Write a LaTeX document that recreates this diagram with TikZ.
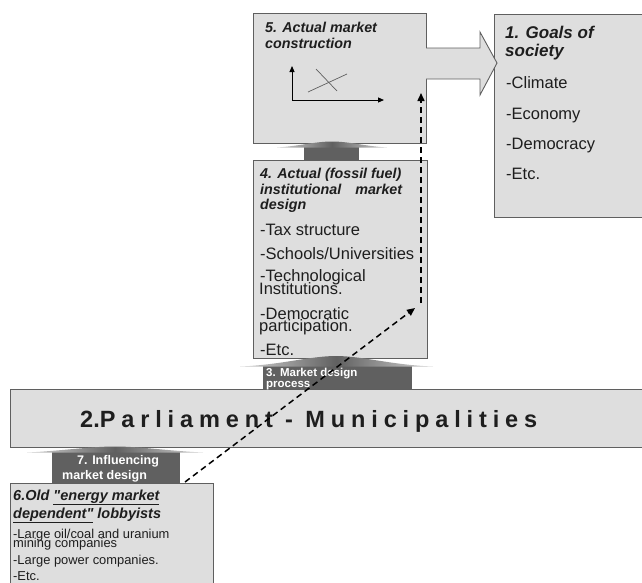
\documentclass[tikz,border=0pt]{standalone}
\usepackage{fontspec}
\setmainfont{Liberation Sans}
\newfontfamily\spacedfont[LetterSpace=25]{Liberation Sans}
\usetikzlibrary{arrows.meta}

\definecolor{boxfill}{RGB}{222,222,222}
\definecolor{boxline}{RGB}{95,95,95}
\definecolor{flowfill}{RGB}{96,96,96}
\definecolor{txt}{RGB}{30,30,30}

\tikzset{
  box/.style={draw=boxline, fill=boxfill, line width=0.9pt, anchor=north west, inner sep=0pt},
  ttl/.style={anchor=base west, inner sep=0pt, text=txt, font=\bfseries\itshape\fontsize{14.3}{16}\selectfont},
  itm/.style={anchor=base west, inner sep=0pt, text=txt, font=\fontsize{16.5}{18}\selectfont},
  small/.style={anchor=base west, inner sep=0pt, text=txt, font=\fontsize{12.9}{14}\selectfont},
  flowhead/.style={left color=gray!35, right color=gray!35, middle color=flowfill},
  flowtxt/.style={anchor=base west, inner sep=0pt, text=white, font=\bfseries\fontsize{11.5}{12}\selectfont},
  linkarrow/.style={line width=1.5pt, dash pattern=on 6pt off 4pt, -{Triangle[length=8pt,width=7pt]}}
}

\begin{document}
\begin{tikzpicture}[x=1pt,y=-1pt]
  \useasboundingbox (0,0) rectangle (642,582);

  % 5. market construction
  \node[box, minimum width=173pt, minimum height=130pt] (construction) at (253,13) {};
  \node[ttl] (constrA) at (265,32) {5. Actual market};
  \node[ttl] (constrB) at (265,48) {construction};
  \coordinate (origin) at (292,100);
  \draw[line width=1pt, -{Triangle[length=6pt,width=5pt]}] (origin) -- (292,66);
  \draw[line width=1pt, -{Triangle[length=6pt,width=5pt]}] (origin) -- (384,100);
  \draw[boxline, line width=0.7pt] (308,92) -- (347,74);
  \draw[boxline, line width=0.7pt] (316,69) -- (337,91);

  % 1. goals of society
  \node[box, minimum width=160pt, minimum height=203pt] (goals) at (494,14) {};
  \node[ttl, font=\bfseries\itshape\fontsize{17}{19}\selectfont] (goalsA) at (505,38) {1. Goals of};
  \node[ttl, font=\bfseries\itshape\fontsize{17}{19}\selectfont] (goalsB) at (505,56) {society};
  \foreach \y/\t [count=\i] in {88/-Climate, 119/-Economy, 149/-Democracy, 179/-Etc.}
    \node[itm] (goal\i) at (506,\y) {\t};

  % big arrow construction -> goals
  \fill[boxfill] (425,48) -- (480,48) -- (480,32) -- (497,63) -- (480,95) -- (480,79) -- (425,79) -- cycle;
  \draw[boxline, line width=0.9pt] (426,48) -- (480,48) -- (480,32) -- (497,63) -- (480,95) -- (480,79) -- (426,79);

  % 4. institutional market design
  \node[box, minimum width=174pt, minimum height=198pt] (design) at (253,160) {};
  \node[ttl] (designA) at (260,178) {4. Actual (fossil fuel)};
  \node[ttl] (designB) at (260,194) {\hbox to 142pt{institutional\hfill market}};
  \node[ttl] (designC) at (260,209) {design};
  \node[itm] (design1) at (260,235) {-Tax structure};
  \node[itm] (design2) at (260,259) {-Schools/Universities};
  \node[itm] (design3) at (260,281) {-Technological};
  \node[itm] (design3b) at (259,294) {Institutions.};
  \node[itm] (design4) at (260,319) {-Democratic};
  \node[itm] (design4b) at (259,331) {participation.};
  \node[itm] (design5) at (260,355) {-Etc.};

  % up arrow design -> construction
  \fill[flowfill] (304,147) rectangle (359,160);
  \shade[flowhead] (277,147.5) .. controls (300,146) and (315,141.5) .. (332,141.5)
    .. controls (349,141.5) and (364,146) .. (387,147.5) -- cycle;

  % 2. parliament
  \node[box, minimum width=650pt, minimum height=58pt] (parliament) at (10,389) {};
  \node[anchor=base west, inner sep=0pt, text=txt] (parltext) at (80,427.5)
    {\bfseries\fontsize{23.5}{26}\selectfont 2.{\spacedfont\bfseries Parliament - Municipalities}};

  % 3. market design process
  \fill[flowfill] (263,366) rectangle (412,389);
  \shade[flowhead] (240,366.5) .. controls (280,365) and (310,356) .. (336,356)
    .. controls (362,356) and (392,365) .. (433,366.5) -- cycle;
  \node[flowtxt] (processA) at (266,376) {3. Market design};
  \node[flowtxt] (processB) at (266,387.5) {process};

  % 6. lobbyists
  \node[box, minimum width=203pt, minimum height=130pt] (lobby) at (10,483) {};
  \node[ttl, font=\bfseries\itshape\fontsize{14.5}{16}\selectfont] (lobbyA) at (13,500)
    {6.Old \underline{\textquotedbl energy market}};
  \node[ttl, font=\bfseries\itshape\fontsize{14.5}{16}\selectfont] (lobbyB) at (13,518)
    {\underline{dependent\textquotedbl} lobbyists};
  \node[small] (lobby1) at (13,538) {-Large oil/coal and uranium};
  \node[small] (lobby1b) at (13,547) {mining companies};
  \node[small] (lobby2) at (13,564) {-Large power companies.};
  \node[small] (lobby3) at (13,580) {-Etc.};

  % 7. influencing market design
  \fill[flowfill] (52,452) rectangle (180,483);
  \shade[flowhead] (27,452.5) .. controls (60,451) and (90,446.5) .. (115,446.5)
    .. controls (140,446.5) and (170,451) .. (203,452.5) -- cycle;
  \node[flowtxt, font=\bfseries\fontsize{12.5}{13}\selectfont] (influenceA) at (77,464) {7. Influencing};
  \node[flowtxt, font=\bfseries\fontsize{12.5}{13}\selectfont] (influenceB) at (62,479) {market design};

  % dashed links
  \coordinate (lobbyout) at (185,482);
  \coordinate (designin) at (415,308);
  \coordinate (designup) at (421,303);
  \coordinate (constrin) at (421,93);
  \draw[linkarrow] (lobbyout) -- (designin);
  \draw[linkarrow] (designup) -- (constrin);
\end{tikzpicture}
\end{document}
